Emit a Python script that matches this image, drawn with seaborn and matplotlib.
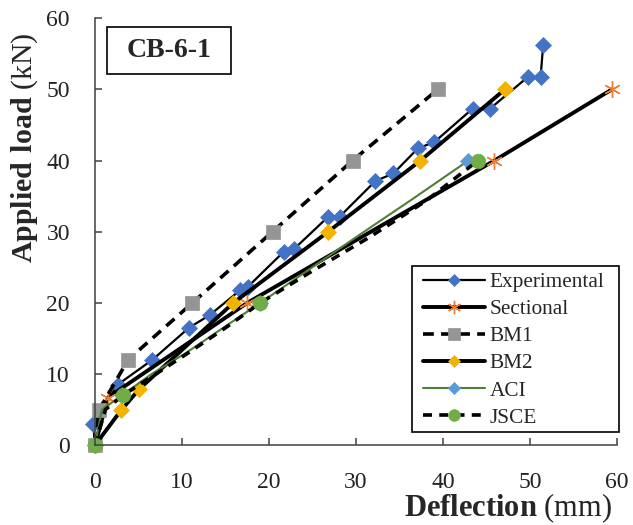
import numpy as np
import pandas as pd
import matplotlib
matplotlib.use("Agg")
import matplotlib.pyplot as plt
from matplotlib.lines import Line2D
from matplotlib.patches import Rectangle
import seaborn as sns

# deflection (mm) / load (kN)
exp_x = [0, -0.2, 2.6, 6.6, 10.8, 13.2, 16.7, 17.6, 21.7, 22.9, 26.8, 28.1,
         32.2, 34.3, 37.1, 39.0, 43.4, 45.4, 49.7, 51.2, 51.5]
exp_y = [0, 3.0, 8.5, 12.0, 16.5, 18.3, 21.8, 22.3, 27.2, 27.6, 32.1, 32.1,
         37.1, 38.2, 41.7, 42.6, 47.3, 47.3, 51.7, 51.7, 56.3]

sec_x = [0, 1.5, 17.5, 45.9, 59.4]
sec_y = [0, 6.7, 20, 40, 50]

bm1_x = [0, 0.5, 3.8, 11.2, 20.4, 29.6, 39.4]
bm1_y = [0, 5, 12, 20, 30, 40, 50]

bm2_x = [0, 3.0, 5.1, 15.9, 26.8, 37.4, 47.1]
bm2_y = [0, 4.9, 7.9, 20, 30, 40, 50]

aci_x = [0, 0.8, 3.1, 6.5, 10.5, 14.5, 19.0, 24.5, 30.2, 36.5, 42.9]
aci_y = [0, 5.0, 7.0, 10.0, 13.0, 16.3, 20, 24.6, 29.4, 34.6, 40]
aci_marks = [0, 2, 6, 10]

jsce_x = [0, 1.2, 3.2, 7.0, 11.0, 15.0, 19.0, 25.0, 31.5, 38.0, 44.0]
jsce_y = [0, 5.0, 7.0, 10.0, 13.2, 16.5, 20, 24.5, 29.2, 34.3, 40]
jsce_marks = [0, 2, 6, 10]

sns.set_style("ticks")
plt.rcParams['font.family'] = ['Liberation Serif', 'DejaVu Serif']
plt.rcParams['mathtext.fontset'] = 'custom'
plt.rcParams['mathtext.rm'] = 'Liberation Serif'
plt.rcParams['mathtext.bf'] = 'Liberation Serif:bold'

fig = plt.figure(figsize=(6.33, 5.25), dpi=100)
ax = fig.add_axes([0.150, 0.152, 0.825, 0.8133])

blue = '#4472C4'
orange = '#ED7D31'
grey = '#959595'
yellow = '#F2B400'
lblue = '#5B9BD5'
green = '#70AD47'
dkgreen = '#4E7F34'

series = [
    dict(x=exp_x, y=exp_y, label='Experimental', color='black', lw=1.6, ls='-',
         marker='D', ms=8, mfc=blue, mec=blue, mew=0.5, every=None),
    dict(x=sec_x, y=sec_y, label='Sectional', color='black', lw=2.8, ls='-',
         marker=(6, 2, 0), ms=12, mfc=orange, mec=orange, mew=1.0, every=None),
    dict(x=bm1_x, y=bm1_y, label='BM1', color='black', lw=2.6, ls=(0, (3, 2)),
         marker='s', ms=10, mfc=grey, mec=grey, mew=0.5, every=None),
    dict(x=bm2_x, y=bm2_y, label='BM2', color='black', lw=2.8, ls='-',
         marker='D', ms=8, mfc=yellow, mec=yellow, mew=0.5, every=None),
    dict(x=aci_x, y=aci_y, label='ACI', color=dkgreen, lw=1.5, ls='-',
         marker='D', ms=8, mfc=lblue, mec=lblue, mew=0.5, every=aci_marks),
    dict(x=jsce_x, y=jsce_y, label='JSCE', color='black', lw=2.6, ls=(0, (2.5, 2)),
         marker='o', ms=10.5, mfc=green, mec=green, mew=0.5, every=jsce_marks),
]

handles = []
for s in series:
    df = pd.DataFrame({'x': s['x'], 'y': s['y']})
    sns.lineplot(data=df, x='x', y='y', ax=ax, sort=False, estimator=None,
                 color=s['color'], lw=s['lw'], linestyle=s['ls'],
                 marker=s['marker'], markersize=s['ms'],
                 markerfacecolor=s['mfc'], markeredgecolor=s['mec'],
                 markeredgewidth=s['mew'], markevery=s['every'],
                 clip_on=False, legend=False)
    handles.append(Line2D([], [], color=s['color'], lw=s['lw'], linestyle=s['ls'],
                          marker=s['marker'], markersize=s['ms'] * 0.8,
                          markerfacecolor=s['mfc'], markeredgecolor=s['mec'],
                          markeredgewidth=s['mew'], label=s['label']))

ax.set_xlim(0, 60)
ax.set_ylim(0, 60)
ax.set_xticks(range(0, 61, 10))
ax.set_yticks(range(0, 61, 10))
sns.despine(ax=ax)
for sp in ['left', 'bottom']:
    ax.spines[sp].set_color('#404040')
    ax.spines[sp].set_linewidth(1.1)
ax.tick_params(axis='both', direction='in', length=5, width=1.1, color='#404040',
               labelsize=17, labelcolor='#222222')
ax.tick_params(axis='x', pad=19)
ax.tick_params(axis='y', pad=18)

ax.set_xlabel(r'$\mathbf{Deflection}$ (mm)', fontsize=22, loc='right')
ax.xaxis.set_label_coords(0.99, -0.108)
ax.set_ylabel(r'$\mathbf{Applied\ load}$ (kN)', fontsize=21.5, loc='top')
ax.yaxis.set_label_coords(-0.105, 0.967)

ax.add_patch(Rectangle((0.023, 0.869), 0.2375, 0.110, transform=ax.transAxes,
                       fill=False, edgecolor='black', lw=1.2, clip_on=False))
ax.text(0.1418, 0.924, 'CB-6-1', transform=ax.transAxes, ha='center', va='center',
        fontsize=20, fontweight='bold')

# legend frame drawn separately so the padding can match the reference
ax.add_patch(Rectangle((0.607, 0.030), 0.397, 0.389, transform=ax.transAxes,
                       facecolor='white', edgecolor='black', lw=1.2,
                       clip_on=False, zorder=4))
leg = ax.legend(handles=handles, loc='upper left', bbox_to_anchor=(0.628, 0.405),
                fontsize=15.3, frameon=False, handlelength=2.9, handletextpad=0.25,
                labelspacing=0.34, borderpad=0, borderaxespad=0)
leg.set_zorder(5)

fig.savefig('out.png', dpi=100)
